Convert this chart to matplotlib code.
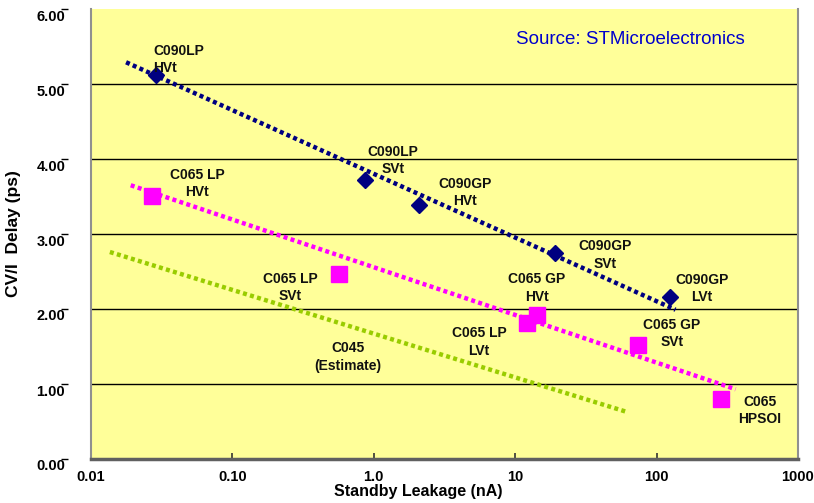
import numpy as np
import matplotlib
matplotlib.use("Agg")
import matplotlib.pyplot as plt
import matplotlib.transforms as mtransforms

plt.rcParams['font.family'] = ['Liberation Sans', 'DejaVu Sans']

# C090 family (diamonds)
c090_labels = ["C090LP\nHVt", "C090LP\nSVt", "C090GP\nHVt", "C090GP\nSVt", "C090GP\nLVt"]
c090_leak = [0.029, 0.86, 2.1, 19.0, 124.0]
c090_delay = [5.12, 3.72, 3.39, 2.75, 2.16]

# C065 family (squares)
c065_labels = ["C065 LP\nHVt", "C065 LP\nSVt", "C065 LP\nLVt", "C065 GP\nHVt", "C065 GP\nSVt", "C065\nHPSOI"]
c065_leak = [0.027, 0.57, 12.1, 14.3, 74.0, 284.0]
c065_delay = [3.51, 2.47, 1.81, 1.92, 1.52, 0.80]

# Trend lines (endpoints on log-x axis)
trend_c090_x = [0.0177, 136.0]
trend_c090_y = [5.29, 1.99]
trend_c065_x = [0.0191, 362.0]
trend_c065_y = [3.65, 0.93]
trend_c045_x = [0.0136, 61.0]
trend_c045_y = [2.76, 0.63]

# Annotation anchors (leakage, delay)
c090_text_xy = [(0.0275, 5.33), (1.37, 3.98), (4.42, 3.55), (43.2, 2.72), (209.0, 2.27)]
c090_text_ha = ["left", "center", "center", "center", "center"]
c065_text_xy = [(0.0562, 3.67), (0.2555, 2.29), (5.55, 1.56), (14.26, 2.28), (128.5, 1.67), (538.0, 0.65)]
c045_label = "C045\n(Estimate)"
c045_text_xy = (0.657, 1.36)

x_ticks = [0.01, 0.1, 1, 10, 100, 1000]
x_ticklabels = ["0.01", "0.10", "1.0", "10", "100", "1000"]
y_ticks = [0, 1, 2, 3, 4, 5, 6]
y_ticklabels = ["0.00", "1.00", "2.00", "3.00", "4.00", "5.00", "6.00"]

navy = "#000080"
magenta = "#FF00FF"
green = "#99CC00"

fig = plt.figure(figsize=(8.14, 5.03), dpi=100)
ax = fig.add_axes([91/814, 44/503, 707/814, 450/503])
ax.set_facecolor("#FFFF99")
ax.set_xscale("log")
ax.set_xlim(0.01, 1000)
ax.set_ylim(0, 6)

for y in y_ticks[1:-1]:
    ax.axhline(y, color="black", lw=1.0, zorder=1)

dot = dict(lw=3.2, dashes=(0.9, 0.75), dash_capstyle="butt", zorder=2)
ax.plot(trend_c090_x, trend_c090_y, color=navy, **dot)
ax.plot(trend_c065_x, trend_c065_y, color=magenta, **dot)
ax.plot(trend_c045_x, trend_c045_y, color=green, **dot)

ax.plot(c090_leak, c090_delay, ls="none", marker="D", ms=8.5, color=navy, zorder=3)
ax.plot(c065_leak, c065_delay, ls="none", marker="s", ms=11, color=magenta, zorder=3)

tkw = dict(fontsize=10, fontweight="bold", va="center", linespacing=1.3, color="#111111")
for lab, (tx, ty), ha in zip(c090_labels, c090_text_xy, c090_text_ha):
    ax.text(tx, ty, lab, ha=ha, multialignment=ha, **tkw)
for lab, (tx, ty) in zip(c065_labels, c065_text_xy):
    ax.text(tx, ty, lab, ha="center", **tkw)
ax.text(c045_text_xy[0], c045_text_xy[1], c045_label, ha="center", **tkw)

ax.text((745 - 91) / 707, (459 - 40) / 450, "Source: STMicroelectronics",
        transform=ax.transAxes, ha="right", va="center", fontsize=13.5, color="#0000CC")

# x axis: small inward ticks
ax.set_xticks(x_ticks)
ax.set_xticklabels(x_ticklabels)
ax.xaxis.set_minor_locator(matplotlib.ticker.NullLocator())
ax.tick_params(axis="x", direction="in", length=4, width=1.2, color="#333333",
               labelsize=10.5, pad=8)
for lab in ax.get_xticklabels():
    lab.set_fontweight("bold")

# y axis: ticks and labels sit to the left of the plot border
ax.set_yticks(y_ticks)
ax.tick_params(axis="y", left=False, labelleft=False)
sec = ax.secondary_yaxis(-(91 - 68) / 707)
sec.spines["left"].set_visible(False)
sec.set_yticks(y_ticks)
sec.set_yticklabels(y_ticklabels)
sec.tick_params(axis="y", direction="out", length=5, width=1.0, labelsize=10.5, pad=-3)
shift = mtransforms.ScaledTranslation(0, -6 / 100, fig.dpi_scale_trans)
for lab in sec.get_yticklabels():
    lab.set_fontweight("bold")
    lab.set_transform(lab.get_transform() + shift)

for s in ("left", "right"):
    ax.spines[s].set_color("#909090")
    ax.spines[s].set_linewidth(1.5)
ax.spines["bottom"].set_color("#606060")
ax.spines["bottom"].set_linewidth(2.5)
ax.spines["top"].set_visible(False)

ax.set_xlabel("Standby Leakage (nA)", fontsize=11.5, fontweight="bold")
ax.xaxis.set_label_coords((418 - 91) / 707, -0.055)
ax.set_ylabel("CV/I  Delay (ps)", fontsize=12.5, fontweight="bold")
ax.yaxis.set_label_coords(-(91 - 21) / 707, 0.5)

fig.savefig("out.png", dpi=100)
